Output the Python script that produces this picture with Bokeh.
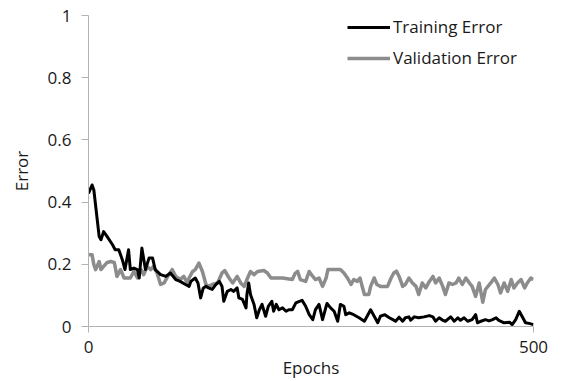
from bokeh.plotting import figure
from bokeh.models import Range1d, FixedTicker, CustomJSTickFormatter, Legend, LegendItem
from bokeh.embed import file_html
from bokeh.resources import INLINE

# ---- data ----
train_epochs = [0, 4, 6, 12, 14, 17, 21, 27, 30, 34, 38, 41, 45, 47, 51, 55, 57, 60, 64, 68,
                72, 75, 81, 87, 92, 98, 103, 109, 113, 115, 120, 123, 126, 129, 132, 135, 139,
                143, 147, 150, 152, 156, 160, 163, 167, 169, 173, 177, 178, 180, 182, 186, 189,
                192, 195, 199, 202, 206, 208, 211, 214, 218, 222, 225, 229, 233, 237, 240, 244,
                248, 252, 255, 259, 263, 267, 268, 272, 276, 280, 283, 287, 289, 293, 298, 304,
                310, 314, 317, 321, 325, 328, 333, 338, 342, 345, 349, 353, 356, 360, 362, 366,
                371, 377, 383, 387, 390, 394, 398, 401, 407, 411, 415, 418, 422, 426, 431, 435,
                437, 441, 446, 450, 454, 458, 461, 467, 473, 476, 480, 484, 488, 491, 495, 500]
train_error = [0.428, 0.455, 0.439, 0.289, 0.279, 0.305, 0.289, 0.263, 0.247, 0.247, 0.215, 0.183,
               0.247, 0.183, 0.188, 0.183, 0.156, 0.252, 0.183, 0.22, 0.22, 0.183, 0.167, 0.161,
               0.172, 0.151, 0.145, 0.135, 0.129, 0.145, 0.156, 0.14, 0.092, 0.124, 0.129, 0.124,
               0.119, 0.135, 0.145, 0.129, 0.081, 0.113, 0.119, 0.113, 0.124, 0.092, 0.087, 0.06,
               0.103, 0.14, 0.103, 0.071, 0.028, 0.054, 0.071, 0.033, 0.065, 0.081, 0.049, 0.071,
               0.054, 0.06, 0.049, 0.054, 0.054, 0.076, 0.081, 0.084, 0.065, 0.038, 0.022, 0.054,
               0.071, 0.022, 0.065, 0.074, 0.06, 0.049, 0.017, 0.071, 0.065, 0.038, 0.044, 0.038,
               0.028, 0.017, 0.038, 0.054, 0.033, 0.012, 0.033, 0.038, 0.028, 0.022, 0.017, 0.03,
               0.017, 0.028, 0.031, 0.02, 0.031, 0.028, 0.031, 0.035, 0.031, 0.017, 0.028, 0.02,
               0.017, 0.031, 0.017, 0.028, 0.02, 0.028, 0.017, 0.022, 0.038, 0.012, 0.017, 0.022,
               0.018, 0.022, 0.028, 0.02, 0.012, 0.014, 0.006, 0.022, 0.049, 0.028, 0.012, 0.01,
               0.006]

val_epochs = [0, 4, 6, 8, 12, 14, 17, 21, 25, 29, 32, 36, 40, 44, 47, 51, 55, 59, 62, 66, 70, 73,
              77, 81, 85, 89, 94, 98, 103, 107, 111, 113, 117, 120, 124, 128, 132, 135, 139, 145,
              150, 153, 158, 162, 167, 171, 175, 178, 182, 186, 190, 197, 201, 205, 218, 229, 232,
              235, 238, 244, 248, 252, 255, 259, 263, 267, 269, 283, 287, 291, 295, 298, 302, 305,
              308, 310, 315, 317, 321, 324, 328, 336, 340, 343, 346, 349, 353, 356, 360, 364, 368,
              371, 375, 379, 383, 387, 390, 394, 398, 401, 405, 409, 413, 416, 420, 424, 428, 431,
              435, 439, 443, 446, 452, 456, 460, 463, 467, 471, 475, 478, 482, 486, 490, 493, 497,
              500]
val_error = [0.231, 0.231, 0.199, 0.183, 0.209, 0.183, 0.193, 0.206, 0.209, 0.206, 0.161, 0.183,
             0.156, 0.156, 0.156, 0.177, 0.156, 0.183, 0.167, 0.193, 0.183, 0.193, 0.172, 0.135,
             0.14, 0.161, 0.183, 0.161, 0.151, 0.161, 0.14, 0.156, 0.177, 0.183, 0.204, 0.177,
             0.135, 0.129, 0.135, 0.14, 0.172, 0.18, 0.156, 0.14, 0.161, 0.14, 0.129, 0.151,
             0.177, 0.167, 0.177, 0.18, 0.172, 0.156, 0.156, 0.151, 0.17, 0.177, 0.151, 0.145,
             0.177, 0.161, 0.151, 0.156, 0.129, 0.156, 0.183, 0.183, 0.172, 0.156, 0.135, 0.151,
             0.145, 0.156, 0.124, 0.103, 0.103, 0.129, 0.156, 0.135, 0.129, 0.129, 0.156, 0.172,
             0.178, 0.161, 0.129, 0.135, 0.156, 0.14, 0.129, 0.103, 0.14, 0.124, 0.145, 0.161,
             0.14, 0.156, 0.129, 0.103, 0.14, 0.135, 0.14, 0.156, 0.135, 0.156, 0.14, 0.129,
             0.097, 0.14, 0.078, 0.119, 0.14, 0.156, 0.135, 0.108, 0.14, 0.113, 0.151, 0.124,
             0.14, 0.151, 0.124, 0.14, 0.156, 0.151]

x_ticks = [0, 500]
y_ticks = [0, 0.2, 0.4, 0.6, 0.8, 1]
series_names = ["Training Error", "Validation Error"]

FONT = "Open Sans"
TXT = "#1a1a1a"
AXIS = "#b3b3b3"

p = figure(width=565, height=381, x_range=Range1d(0, 500), y_range=Range1d(0, 1),
           output_backend="svg", toolbar_location=None,
           min_border_left=88, min_border_right=32, min_border_top=15, min_border_bottom=54)
p.outline_line_color = None
p.xgrid.visible = False
p.ygrid.visible = False
p.background_fill_color = "white"
p.border_fill_color = "white"

r_val = p.line(val_epochs, val_error, line_color="#8c8c8c", line_width=3.5, line_join="round")
r_tr = p.line(train_epochs, train_error, line_color="#000000", line_width=3, line_join="round")

for ax in (p.xaxis[0], p.yaxis[0]):
    ax.axis_line_color = AXIS
    ax.major_tick_line_color = AXIS
    ax.minor_tick_line_color = None
    ax.major_tick_in = 0
    ax.major_label_text_font = FONT
    ax.major_label_text_font_size = "17px"
    ax.major_label_text_color = TXT
    ax.axis_label_text_font = FONT
    ax.axis_label_text_font_size = "17px"
    ax.axis_label_text_font_style = "normal"
    ax.axis_label_text_color = TXT

p.xaxis.ticker = FixedTicker(ticks=x_ticks)
p.yaxis.ticker = FixedTicker(ticks=y_ticks)
p.yaxis.formatter = CustomJSTickFormatter(code="return String(Math.round(tick * 10) / 10);")
p.xaxis.major_tick_out = 6
p.yaxis.major_tick_out = 7
p.xaxis.major_label_standoff = 8
p.yaxis.major_label_standoff = 10
p.xaxis.axis_label = "Epochs"
p.yaxis.axis_label = "Error"
p.xaxis.axis_label_standoff = 0
p.yaxis.axis_label_standoff = 12

legend = Legend(items=[LegendItem(label=series_names[0], renderers=[r_tr]),
                       LegendItem(label=series_names[1], renderers=[r_val])],
                location=(259, 257))
legend.label_text_font = FONT
legend.label_text_font_size = "17px"
legend.label_text_color = TXT
legend.glyph_width = 43
legend.glyph_height = 20
legend.label_standoff = 3
legend.spacing = 8
legend.padding = 0
legend.margin = 0
legend.border_line_color = None
legend.background_fill_alpha = 0
p.add_layout(legend)

open("out.html", "w").write(file_html(p, INLINE))
